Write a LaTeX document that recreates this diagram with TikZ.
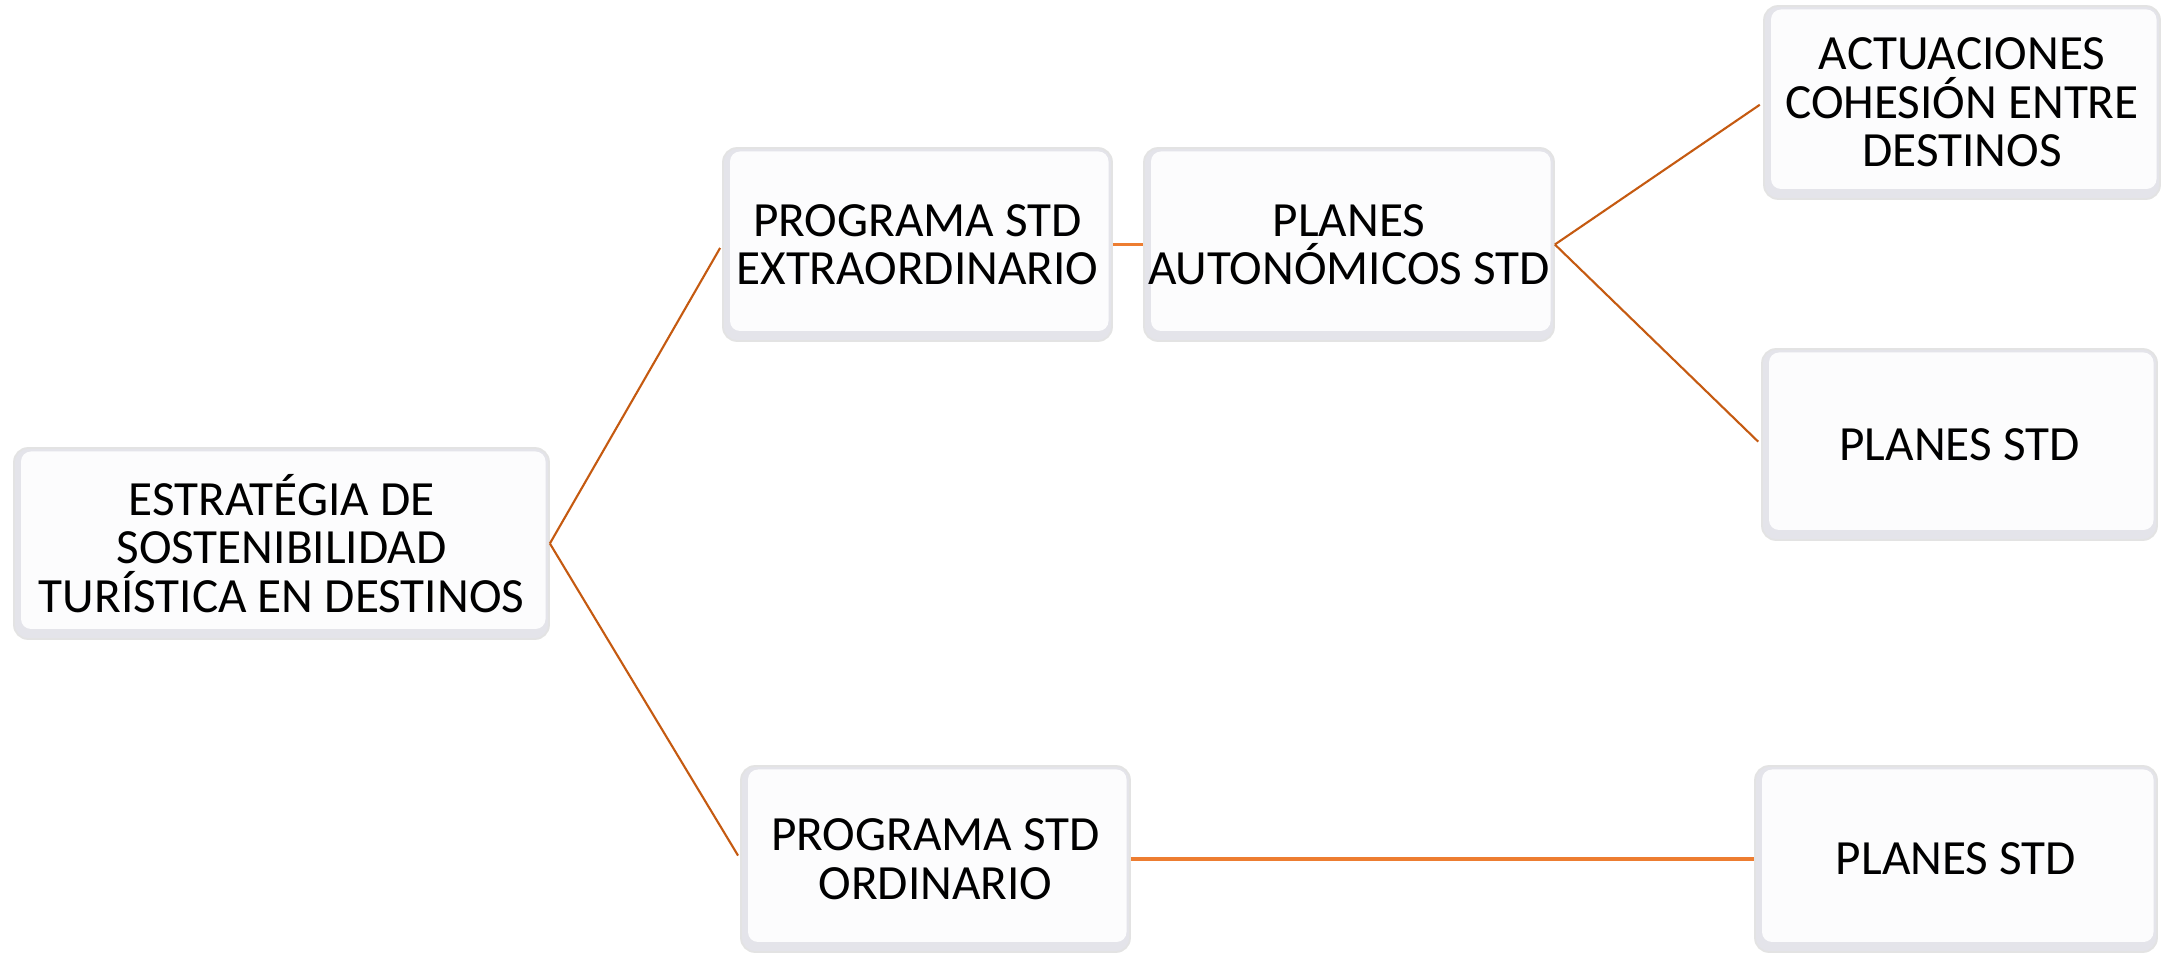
\documentclass[tikz,border=0pt]{standalone}
\usepackage{fontspec}
\setmainfont{Carlito}
\usetikzlibrary{positioning}
\definecolor{linkdark}{RGB}{197,90,17}
\definecolor{linklight}{RGB}{237,125,49}
\definecolor{bevel}{RGB}{228,228,234}
\definecolor{boxface}{RGB}{252,252,253}
\tikzset{
  block/.style={rectangle, rounded corners=0.14cm, draw=gray!22, line width=0.5pt,
    fill=bevel, align=center, inner sep=0pt, font={\fontsize{14}{13.8}\selectfont},
    path picture={\fill[boxface, rounded corners=0.1cm]
      ([shift={(0.07,0.1)}]path picture bounding box.south west) rectangle
      ([shift={(-0.035,-0.035)}]path picture bounding box.north east);}},
  link/.style={draw=linkdark, line width=0.6pt, shorten >=0.04cm},
  flat/.style={draw=linklight, line width=0.9pt}
}
\begin{document}
\begin{tikzpicture}[on grid,auto]
   \useasboundingbox (0,0) rectangle (21.64,9.55);
   \node[block, minimum width=5.35cm, minimum height=1.91cm] (root) at (2.815,4.115)
        {ESTRATÉGIA DE\\SOSTENIBILIDAD\\TURÍSTICA EN DESTINOS};
   \node[block, minimum width=3.89cm, minimum height=1.93cm] (extra) [above right=2.99cm and 6.36cm of root]
        {PROGRAMA STD\\EXTRAORDINARIO};
   \node[block, minimum width=4.10cm, minimum height=1.93cm] (auton) [right=4.315cm of extra]
        {PLANES\\AUTONÓMICOS STD};
   \node[block, minimum width=3.96cm, minimum height=1.93cm] (actu) [above right=1.42cm and 6.13cm of auton]
        {ACTUACIONES\\COHESIÓN ENTRE\\DESTINOS};
   \node[block, minimum width=3.95cm, minimum height=1.91cm] (planesa) [below right=2.0cm and 6.105cm of auton]
        {PLANES STD};
   \node[block, minimum width=3.89cm, minimum height=1.86cm] (ordin) [below right=3.155cm and 6.54cm of root]
        {PROGRAMA STD\\ORDINARIO};
   \node[block, minimum width=4.02cm, minimum height=1.86cm] (planesb) [right=10.205cm of ordin]
        {PLANES STD};
    \path[link]
    (root.east) edge (extra.west)
                edge (ordin.west)
    (auton.east) edge (actu.west)
                 edge (planesa.west);
    \path[flat]
    (extra.east) edge (auton.west)
    (ordin.east) edge (planesb.west);
\end{tikzpicture}
\end{document}
